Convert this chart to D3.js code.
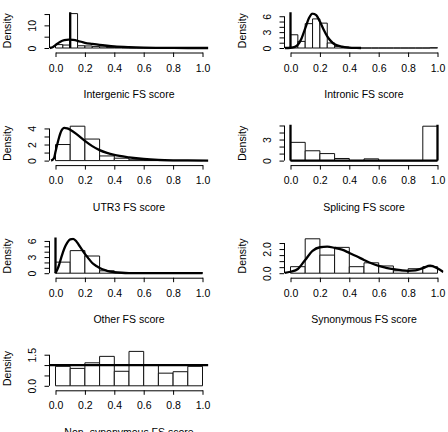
<!DOCTYPE html>
<html>
<head>
<meta charset="utf-8">
<script src="https://cdn.jsdelivr.net/npm/d3@7"></script>
<style>
body { margin: 0; background: #fff; }
svg { display: block; font-family: "Liberation Sans", Arial, sans-serif; }
.bar { fill: #fff; stroke: #111; stroke-width: 1; }
.dens { fill: none; stroke: #000; stroke-width: 2.3; stroke-linejoin: round; }
.spike { stroke: #000; stroke-width: 2.3; }
.axis path, .axis line { stroke: #000; }
.axis text, .lab { font-size: 10.5px; fill: #000; }
</style>
</head>
<body>
<svg id="chart" width="448" height="432"></svg>
<script>
// x axis ticks shared by every panel
const xTicks = [0, 0.2, 0.4, 0.6, 0.8, 1.0];

const titles = ["Intergenic FS score", "Intronic FS score", "UTR3 FS score",
    "Splicing FS score", "Other FS score", "Synonymous FS score",
    "Non\u2212synonymous FS score"];

// histogram densities (bins span 0..1, equal width)
const intergenicHist = [1.5, 1.3, 15.2, 1.0, 0.9, 0.7, 0.5, 0.3, 0.2, 0.1,
    0.05, 0.05, 0.02, 0.02, 0, 0, 0, 0, 0, 0];
const intronicHist = [2.5, 1.25, 4.6, 5.5, 4.7, 0.95, 0.3, 0.1, 0, 0,
    0, 0, 0, 0, 0, 0, 0, 0, 0, 0.05];
const utr3Hist = [2.0, 4.28, 2.68, 0.58, 0.3, 0.1, 0.05, 0, 0, 0];
const splicingHist = [2.6, 1.4, 1.0, 0.3, 0, 0.25, 0, 0, 0, 4.9];
const otherHist = [2.06, 4.2, 3.2, 0.45, 0.05, 0.02, 0.02, 0.02, 0.02, 0.1];
const synonymousHist = [0.54, 2.85, 1.5, 2.14, 0.54, 0.86, 0.6, 0.2, 0.37, 0.54];
const nonsynHist = [0.94, 0.84, 1.11, 1.42, 0.70, 1.66, 0.99, 0.61, 0.68, 0.94];

// density curves [score, density]
const intergenicDens = [[-0.04, 0], [-0.02, 0.3], [0, 1.3], [0.03, 2.7], [0.06, 3.5],
    [0.09, 3.7], [0.12, 3.55], [0.15, 3.2], [0.2, 2.3], [0.25, 1.8], [0.3, 1.35],
    [0.35, 1.0], [0.4, 0.7], [0.5, 0.35], [0.6, 0.15], [0.7, 0.07], [0.8, 0.03],
    [0.9, 0.01], [1.04, 0]];
const intronicDens = [[-0.04, 0], [0, 0.05], [0.03, 0.2], [0.05, 0.6], [0.075, 1.8],
    [0.1, 3.7], [0.125, 5.6], [0.15, 6.5], [0.175, 6.2], [0.2, 5.0], [0.225, 3.5],
    [0.25, 2.2], [0.275, 1.3], [0.3, 0.7], [0.35, 0.25], [0.4, 0.08], [0.45, 0.02],
    [0.48, 0]];
const utr3Dens = [[-0.03, 0], [-0.01, 0.3], [0, 1.1], [0.02, 2.6], [0.04, 3.7],
    [0.06, 4.07], [0.08, 4.0], [0.1, 3.85], [0.15, 3.2], [0.2, 2.45], [0.25, 1.8],
    [0.3, 1.3], [0.35, 0.95], [0.4, 0.7], [0.5, 0.4], [0.6, 0.2], [0.7, 0.09],
    [0.8, 0.04], [0.9, 0.02], [1.04, 0]];
const splicingDens = [[0, 0], [1, 0]];
const otherDens = [[0, 0], [0.02, 1.2], [0.04, 3.0], [0.06, 4.6], [0.08, 5.7],
    [0.1, 6.3], [0.12, 6.4], [0.14, 6.0], [0.16, 5.2], [0.18, 4.4], [0.2, 3.6],
    [0.22, 2.9], [0.25, 1.9], [0.28, 1.3], [0.3, 0.95], [0.35, 0.45], [0.4, 0.2],
    [0.45, 0.08], [0.5, 0.03], [0.6, 0.01], [1.0, 0]];
const synonymousDens = [[-0.04, 0.02], [0, 0.12], [0.05, 0.35], [0.1, 1.1],
    [0.15, 1.85], [0.2, 2.15], [0.25, 2.2], [0.3, 2.1], [0.35, 1.95], [0.4, 1.68],
    [0.45, 1.4], [0.5, 1.1], [0.55, 0.82], [0.6, 0.6], [0.65, 0.45], [0.7, 0.33],
    [0.75, 0.25], [0.8, 0.2], [0.85, 0.24], [0.9, 0.42], [0.95, 0.62], [1.0, 0.4],
    [1.04, 0.1]];
const nonsynDens = [[-0.04, 1], [1.04, 1]];

// point masses drawn as vertical spikes
const intergenicSpikes = [0.1];
const intronicSpikes = [0];
const splicingSpikes = [0, 1];
const otherSpikes = [0];

// y ticks and the labels R kept
const intergenicYTicks = [0, 5, 10, 15], intergenicYLabels = ["0", "", "10", ""];
const intronicYTicks = [0, 1, 2, 3, 4, 5, 6], intronicYLabels = ["0", "", "", "3", "", "", "6"];
const utr3YTicks = [0, 1, 2, 3, 4], utr3YLabels = ["0", "", "2", "", "4"];
const splicingYTicks = [0, 1, 2, 3, 4, 5], splicingYLabels = ["0", "", "", "3", "", ""];
const otherYTicks = [0, 1, 2, 3, 4, 5, 6], otherYLabels = ["0", "", "", "3", "", "", "6"];
const synonymousYTicks = [0, 0.5, 1, 1.5, 2, 2.5], synonymousYLabels = ["0.0", "", "", "", "2.0", ""];
const nonsynYTicks = [0, 0.5, 1, 1.5], nonsynYLabels = ["0.0", "", "", "1.5"];

const panels = [
    {hist: intergenicHist, dens: intergenicDens, spikes: intergenicSpikes, yTicks: intergenicYTicks, yLabels: intergenicYLabels},
    {hist: intronicHist, dens: intronicDens, spikes: intronicSpikes, yTicks: intronicYTicks, yLabels: intronicYLabels},
    {hist: utr3Hist, dens: utr3Dens, spikes: [], yTicks: utr3YTicks, yLabels: utr3YLabels},
    {hist: splicingHist, dens: splicingDens, spikes: splicingSpikes, yTicks: splicingYTicks, yLabels: splicingYLabels},
    {hist: otherHist, dens: otherDens, spikes: otherSpikes, yTicks: otherYTicks, yLabels: otherYLabels},
    {hist: synonymousHist, dens: synonymousDens, spikes: [], yTicks: synonymousYTicks, yLabels: synonymousYLabels},
    {hist: nonsynHist, dens: nonsynDens, spikes: [], yTicks: nonsynYTicks, yLabels: nonsynYLabels}
];

const svg = d3.select("#chart");
svg.append("rect").attr("width", 448).attr("height", 432).attr("fill", "#fff");

panels.forEach(function (p, i) {
    let col = i % 2, row = Math.floor(i / 2);
    let x0 = 55.5 + 235 * col;
    let base = 48 + 112.6 * row;
    let yMax = Math.max(d3.max(p.hist), d3.max(p.dens, d => d[1]));

    let x = d3.scaleLinear().domain([0, 1]).range([x0, x0 + 147]);
    let y = d3.scaleLinear().domain([0, yMax]).range([base, base - 34.4]);

    let g = svg.append("g");

    // plot region clip (R pads the range by 4%)
    let clipId = "clip" + i;
    g.append("clipPath").attr("id", clipId).append("rect")
        .attr("x", x(-0.04))
        .attr("y", y(yMax * 1.04))
        .attr("width", x(1.04) - x(-0.04))
        .attr("height", y(0) + 2 - y(yMax * 1.04));

    let plot = g.append("g").attr("clip-path", "url(#" + clipId + ")");
    let bw = 1 / p.hist.length;

    plot.selectAll(".bar")
        .data(p.hist)
        .enter()
        .append("path")
        .attr("class", "bar")
        .attr("d", function (v, k) {
            let a = x(k * bw), b = x((k + 1) * bw);
            return "M" + a + "," + y(0) + "V" + y(v) + "H" + b + "V" + y(0) + "Z";
        });

    plot.append("path")
        .datum(p.dens)
        .attr("class", "dens")
        .attr("d", d3.line()
            .x(d => x(d[0]))
            .y(d => y(d[1]))
            .curve(d3.curveMonotoneX));

    plot.selectAll(".spike")
        .data(p.spikes)
        .enter()
        .append("line")
        .attr("class", "spike")
        .attr("x1", d => x(d)).attr("x2", d => x(d))
        .attr("y1", y(0)).attr("y2", y(yMax * 2));

    // x axis sits a little below the baseline
    let xAxis = g.append("g")
        .attr("class", "axis")
        .attr("transform", "translate(0," + (base + 4.5) + ")")
        .call(d3.axisBottom(x)
            .tickValues(xTicks)
            .tickSize(4.5)
            .tickSizeOuter(0)
            .tickFormat(d3.format(".1f")));
    xAxis.selectAll("text").attr("y", 15.5).attr("dy", "0.35em");

    let yAxis = g.append("g")
        .attr("class", "axis")
        .attr("transform", "translate(" + (x0 - 6.5) + ",0)")
        .call(d3.axisLeft(y)
            .tickValues(p.yTicks)
            .tickSize(4.5)
            .tickSizeOuter(0)
            .tickFormat((d, k) => p.yLabels[k]));
    yAxis.select(".domain").remove();
    yAxis.append("line")
        .attr("x1", 0.5).attr("x2", 0.5)
        .attr("y1", y(0)).attr("y2", y(p.yTicks[p.yTicks.length - 1]))
        .attr("stroke", "#000");
    yAxis.selectAll(".tick text")
        .attr("x", 0).attr("y", 0)
        .attr("dy", "0.35em")
        .attr("text-anchor", "middle")
        .attr("transform", "translate(-17,0) rotate(-90)");

    g.append("text")
        .attr("class", "lab")
        .attr("x", x(0.5))
        .attr("y", base + 46.6)
        .attr("dy", "0.35em")
        .attr("text-anchor", "middle")
        .text(titles[i]);

    g.append("text")
        .attr("class", "lab")
        .attr("transform", "translate(" + (x0 - 48.3) + "," + (base - 17.3) + ") rotate(-90)")
        .attr("dy", "0.35em")
        .attr("text-anchor", "middle")
        .text("Density");
});
</script>
</body>
</html>
